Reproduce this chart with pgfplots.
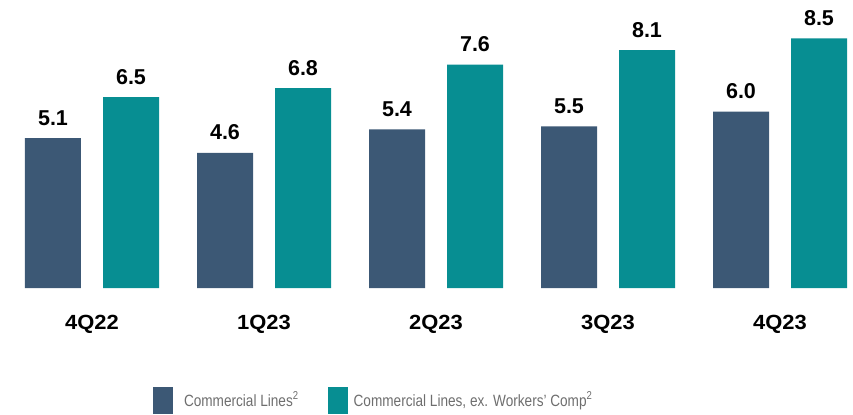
\documentclass[border=0pt]{standalone}
\usepackage{fontspec}
\setmainfont{Liberation Sans}
\usepackage{pgfplots}
\pgfplotsset{compat=1.18}
\definecolor{barDark}{HTML}{3C5875}
\definecolor{barTeal}{HTML}{078E92}
\definecolor{legGray}{HTML}{6E6E6E}
\begin{document}
\begin{tikzpicture}
\useasboundingbox (0,-127bp) rectangle (853bp,288bp);
\begin{axis}[
    at={(0,0)}, anchor=south west,
    scale only axis,
    width=853bp, height=288bp,
    xmin=-0.53488, xmax=4.42442,
    ymin=0, ymax=9.8026,
    ybar, bar width=0.32558,
    axis line style={draw=none},
    tick style={draw=none},
    ytick=\empty,
    xtick={0,1,2,3,4},
    xticklabels={4Q22,1Q23,2Q23,3Q23,4Q23},
    xticklabel style={anchor=base, yshift=-37bp, xscale=1.07,
        font=\fontsize{20.5bp}{24bp}\selectfont\bfseries},
    /pgf/number format/assume math mode=true,
    nodes near coords={\pgfmathprintnumber[fixed,fixed zerofill,precision=1]{\pgfplotspointmeta}},
    every node near coord/.append style={anchor=base, yshift=13bp,
        font=\fontsize{21.5bp}{24bp}\selectfont\bfseries, text=black},
    legend columns=2,
    legend style={at={(0.1794,-0.3889)}, anchor=west, draw=none, fill=none,
        inner sep=0pt, outer sep=0pt,
        nodes={inner sep=0pt, text=legGray, yscale=1.2,
            font=\fontsize{13.6bp}{16bp}\selectfont},
        /tikz/column 1/.style={column sep=11bp},
        /tikz/column 2/.style={column sep=29bp},
        /tikz/column 3/.style={column sep=6bp}},
    legend image code/.code={\fill[#1] (0bp,-13.5bp) rectangle (20bp,13.5bp);},
]
\addplot[fill=barDark, draw=none, bar shift=-0.22674] coordinates {
    (0,5.1) (1,4.6) (2,5.4) (3,5.5) (4,6.0)
};
\addlegendentry{Commercial Lines\textsuperscript{2}}
\addplot[fill=barTeal, draw=none, bar shift=0.22674] coordinates {
    (0,6.5) (1,6.8) (2,7.6) (3,8.1) (4,8.5)
};
\addlegendentry{Commercial Lines, ex. Workers’ Comp\textsuperscript{2}}
\end{axis}
\end{tikzpicture}
\end{document}
